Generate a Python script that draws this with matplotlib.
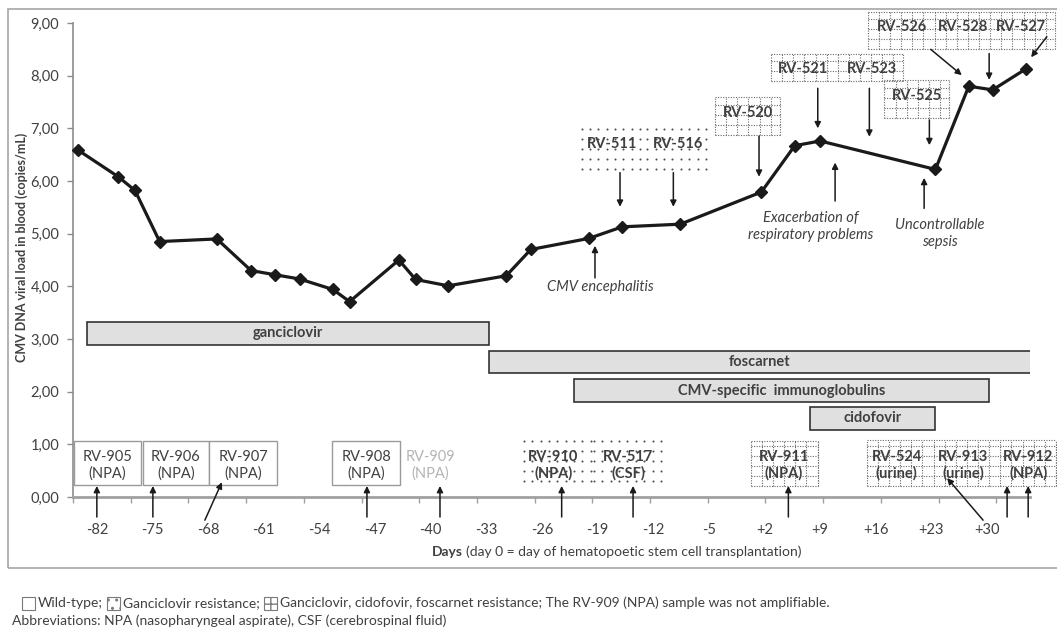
import numpy as np
import matplotlib.pyplot as plt
from matplotlib.patches import Rectangle

plt.rcParams['font.family'] = ['Lato', 'DejaVu Sans']

TXT = '#404040'
INK = '#1a1a1a'

# CMV DNA load in blood (log copies/mL), day relative to HSCT
days = [-84.4, -79.3, -77.2, -74.1, -66.9, -62.6, -59.6, -56.5, -52.3, -50.2,
        -44.0, -41.9, -37.8, -30.5, -27.4, -20.1, -15.9, -8.6, 1.6, 5.8, 9.0,
        23.5, 27.7, 30.7, 34.9]
load = [6.59, 6.08, 5.82, 4.85, 4.90, 4.30, 4.22, 4.14, 3.94, 3.71, 4.50,
        4.13, 4.01, 4.20, 4.70, 4.91, 5.13, 5.18, 5.79, 6.67, 6.76, 6.22,
        7.80, 7.73, 8.13]

day_ticks = [-82, -75, -68, -61, -54, -47, -40, -33, -26, -19, -12, -5,
             2, 9, 16, 23, 30]
day_labels = ['-82', '-75', '-68', '-61', '-54', '-47', '-40', '-33', '-26',
              '-19', '-12', '-5', '+2', '+9', '+16', '+23', '+30']
load_ticks = [0, 1, 2, 3, 4, 5, 6, 7, 8, 9]
load_labels = ['0,00', '1,00', '2,00', '3,00', '4,00', '5,00', '6,00',
               '7,00', '8,00', '9,00']

# treatment periods (days)
drugs = ['ganciclovir', 'foscarnet', 'CMV-specific  immunoglobulins', 'cidofovir']
drug_start = [-83.2, -32.7, -22.0, 7.7]
drug_end = [-32.7, 35.5, 30.2, 23.4]

W, H = 1057, 630
fig = plt.figure(figsize=(W / 100, H / 100), dpi=100)
ax = fig.add_axes([73 / W, 133 / H, 957 / W, 474 / H])
ax.set_xlim(-85.0, 35.4)
ax.set_ylim(0, 9)

for s in ['top', 'right']:
    ax.spines[s].set_visible(False)
ax.spines['left'].set_color('#8c8c8c')
ax.spines['left'].set_linewidth(1.2)
ax.spines['bottom'].set_color('#a0a0a0')
ax.spines['bottom'].set_linewidth(2)

ax.set_yticks(load_ticks)
ax.set_yticklabels(load_labels)
ax.set_xticks(day_ticks)
ax.set_xticklabels(day_labels)
ax.set_xticks(np.arange(-85.0, 32, 7.26), minor=True)
ax.tick_params(axis='y', length=4, width=1, color='#8c8c8c', pad=6,
               labelsize=10.5, labelcolor=TXT)
ax.tick_params(axis='x', which='major', length=0, pad=19,
               labelsize=10.5, labelcolor=TXT)
ax.tick_params(axis='x', which='minor', length=4, width=1, color='#a0a0a0')

# viral load curve
ax.plot(days, load, color=INK, lw=2.3, marker='D', markersize=6, zorder=5,
        clip_on=False)

# treatment bars
bar_y = [3.105, 2.565, 2.02, 1.495]
ax.barh(bar_y, np.array(drug_end) - np.array(drug_start), left=drug_start,
        height=0.43, color='#e0e0e0', edgecolor='#333333', lw=1.2, zorder=2)
for name, y, a, b in zip(drugs, bar_y, drug_start, drug_end):
    ax.text((a + b) / 2, y, name, ha='center', va='center', fontsize=10.5,
            fontweight='bold', color=TXT, zorder=3)


def arrow(x0, y0, x1, y1):
    ax.annotate('', xy=(x1, y1), xytext=(x0, y0), annotation_clip=False,
                arrowprops=dict(arrowstyle='-|>', color=INK, lw=1.1,
                                mutation_scale=9, shrinkA=0, shrinkB=0),
                zorder=4)


def plain_box(x0, x1, y0, y1):
    ax.add_patch(Rectangle((x0, y0), x1 - x0, y1 - y0, facecolor='white',
                           edgecolor='#9a9a9a', lw=1, clip_on=False, zorder=3))


def dot_box(x0, x1, y0, y1):
    gx, gy = np.meshgrid(np.arange(x0 + 0.3, x1, 1.05),
                         np.arange(y0 + 0.06, y1, 0.19))
    ax.scatter(gx.ravel(), gy.ravel(), s=2.2, color='#505050', lw=0,
               clip_on=False, zorder=3)


def grid_box(x0, x1, y0, y1):
    style = dict(color='#6a6a6a', lw=0.8, ls=(0, (1, 1.3)), clip_on=False,
                 zorder=3)
    for x in list(np.arange(x0, x1, 1.4)) + [x1]:
        ax.plot([x, x], [y0, y1], **style)
    for y in list(np.arange(y0, y1, 0.19)) + [y1]:
        ax.plot([x0, x1], [y, y], **style)


def label(x, y, s, bold=False, color=TXT):
    ax.text(x, y, s, ha='center', va='center', fontsize=10.5, color=color,
            fontweight='bold' if bold else 'normal', linespacing=1.25,
            zorder=4, clip_on=False)


# blood samples (above the curve)
dot_box(-21.30, -13.03, 6.16, 7.00)
dot_box(-13.03, -4.85, 6.16, 7.00)
label(-17.22, 6.70, 'RV-511', True)
label(-8.84, 6.70, 'RV-516', True)
grid_box(-4.22, 3.96, 6.87, 7.60)
label(-0.13, 7.30, 'RV-520', True)
grid_box(2.82, 19.47, 7.89, 8.41)
label(6.89, 8.12, 'RV-521', True)
label(15.50, 8.12, 'RV-523', True)
grid_box(17.08, 25.26, 7.19, 7.92)
label(21.17, 7.61, 'RV-525', True)
grid_box(14.99, 38.56, 8.50, 9.21)
label(19.27, 8.92, 'RV-526', True)
label(27.02, 8.92, 'RV-528', True)
label(34.25, 8.92, 'RV-527', True)

arrow(-16.18, 6.16, -16.18, 5.51)
arrow(-9.47, 6.16, -9.47, 5.51)
arrow(1.31, 6.85, 1.31, 6.08)
arrow(8.70, 7.76, 8.70, 7.00)
arrow(15.19, 7.76, 15.19, 6.84)
arrow(22.74, 7.16, 22.74, 6.68)
arrow(22.91, 8.50, 26.82, 8.01)
arrow(30.26, 8.42, 30.26, 7.92)
arrow(37.52, 8.74, 35.54, 8.35)

# clinical events
ev = dict(ha='center', va='center', fontsize=10.5, style='italic', color=TXT,
          linespacing=1.3, zorder=4)
arrow(-19.33, 4.16, -19.33, 4.77)
ax.text(-18.61, 3.98, 'CMV encephalitis', **ev)
arrow(10.88, 5.62, 10.88, 6.35)
ax.text(7.86, 5.14, 'Exacerbation of\nrespiratory problems', **ev)
arrow(22.08, 5.48, 22.08, 6.06)
ax.text(24.09, 5.00, 'Uncontrollable\nsepsis', **ev)

# other specimens (below the bars)
for a, b in [(-84.89, -76.50), (-76.25, -67.87), (-67.87, -59.31), (-52.39, -43.87)]:
    plain_box(a, b, 0.22, 1.07)
label(-80.70, 0.60, 'RV-905\n(NPA)')
label(-72.06, 0.60, 'RV-906\n(NPA)')
label(-63.59, 0.60, 'RV-907\n(NPA)')
label(-48.13, 0.60, 'RV-908\n(NPA)')
label(-40.09, 0.60, 'RV-909\n(NPA)', color='#b4b4b4')
dot_box(-28.55, -19.74, 0.24, 1.08)
dot_box(-19.74, -10.30, 0.24, 1.08)
label(-24.57, 0.60, 'RV-910\n(NPA)', True)
label(-15.13, 0.60, 'RV-517\n(CSF)', True)
grid_box(0.27, 8.78, 0.20, 1.07)
label(4.46, 0.60, 'RV-911\n(NPA)', True)
grid_box(14.86, 38.69, 0.20, 1.09)
label(18.64, 0.60, 'RV-524\n(urine)', True)
label(27.02, 0.60, 'RV-913\n(urine)', True)
label(35.20, 0.60, 'RV-912\n(NPA)', True)

for x in [-82.0, -74.95, -48.02, -38.83, -23.52, -14.54, 5.0, 32.52, 35.17]:
    arrow(x, -0.38, x, 0.21)
arrow(-68.41, -0.44, -66.27, 0.28)
arrow(29.50, -0.44, 24.97, 0.36)

# outer frame
fig.add_artist(Rectangle((8 / W, 62 / H), 1.1, 559 / H, transform=fig.transFigure,
                         fill=False, edgecolor='#a6a6a6', lw=1.2))

# y axis title
fig.text(22 / W, 1 - 247 / H, 'CMV DNA viral load in blood (copies/mL)',
         rotation=90, ha='center', va='center', fontsize=9,
         fontweight='bold', color=TXT)

fig.canvas.draw()
r = fig.canvas.get_renderer()


def run(x, y, s, **kw):
    t = fig.text(x / W, 1 - y / H, s, ha='left', va='center', color=TXT, **kw)
    return t.get_window_extent(r).x1 * W / fig.bbox.width


# x axis title
x = run(432, 552, 'Days', fontsize=10, fontweight='bold')
run(x + 3, 552, '(day 0 = day of hematopoetic stem cell transplantation)', fontsize=10)


# legend / footnote
def icon(x, kind):
    fig.add_artist(Rectangle((x / W, 1 - 610 / H), 13 / W, 13 / H,
                             transform=fig.transFigure, facecolor='white',
                             edgecolor='#7a7a7a', lw=0.8,
                             hatch={'wt': None, 'gcv': '..', 'multi': '++'}[kind]))
    return x + 16


fs = 10
x = icon(22, 'wt')
x = run(x, 603, 'Wild-type;', fontsize=fs)
x = icon(x + 4, 'gcv')
x = run(x, 603, 'Ganciclovir resistance;', fontsize=fs)
x = icon(x + 4, 'multi')
run(x, 603, 'Ganciclovir, cidofovir, foscarnet resistance; '
            'The RV-909 (NPA) sample was not amplifiable.', fontsize=fs)
run(12, 621, 'Abbreviations: NPA (nasopharyngeal aspirate), CSF (cerebrospinal fluid)',
    fontsize=fs)

fig.savefig('out.png', dpi=100)
